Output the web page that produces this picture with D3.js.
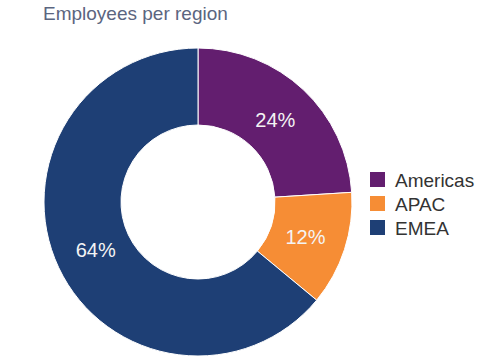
<!DOCTYPE html>
<html><head><meta charset="utf-8">
<script src="https://cdn.jsdelivr.net/npm/d3@7"></script>
<style>body{margin:0;background:#fff}svg{display:block}</style>
</head><body>
<svg id="c" width="500" height="360"></svg>
<script>
const categories = ["Americas", "APAC", "EMEA"];
const values = [24, 12, 64];
const colors = ["#631e6f", "#f68d35", "#1e3f75"];
const title = "Employees per region";

const svg = d3.select("#c");
const font = "'Liberation Sans', Arial, Helvetica, sans-serif";
const cx = 198, cy = 202, R = 154, r = 77;

svg.append("text").attr("x", 43).attr("y", 20)
  .attr("font-family", font).attr("font-size", 19).attr("fill", "#5b6580")
  .text(title);

const pie = d3.pie().sort(null).value(d => d)(values);
const arc = d3.arc().innerRadius(r).outerRadius(R);
const labelArc = d3.arc().innerRadius(113).outerRadius(113);
const color = d3.scaleOrdinal().domain(categories).range(colors);

const g = svg.append("g").attr("transform", `translate(${cx},${cy})`);
g.selectAll("path").data(pie).join("path")
  .attr("d", arc).attr("fill", (d, i) => color(categories[i]))
  .attr("stroke", "#fff").attr("stroke-width", 1);

const total = d3.sum(values);
g.selectAll("text").data(pie).join("text")
  .attr("transform", d => `translate(${labelArc.centroid(d)})`)
  .attr("text-anchor", "middle").attr("dy", "0.36em")
  .attr("font-family", font).attr("font-size", 20).attr("fill", "#f4f4f4")
  .text(d => Math.round(d.value / total * 100) + "%");

const leg = svg.append("g").attr("transform", "translate(370,172)");
const items = leg.selectAll("g").data(categories).join("g")
  .attr("transform", (d, i) => `translate(0,${i * 24})`);
items.append("rect").attr("width", 15).attr("height", 15).attr("fill", d => color(d));
items.append("text").attr("x", 25).attr("y", 15)
  .attr("font-family", font).attr("font-size", 19).attr("fill", "#333")
  .text(d => d);
</script>
</body></html>
